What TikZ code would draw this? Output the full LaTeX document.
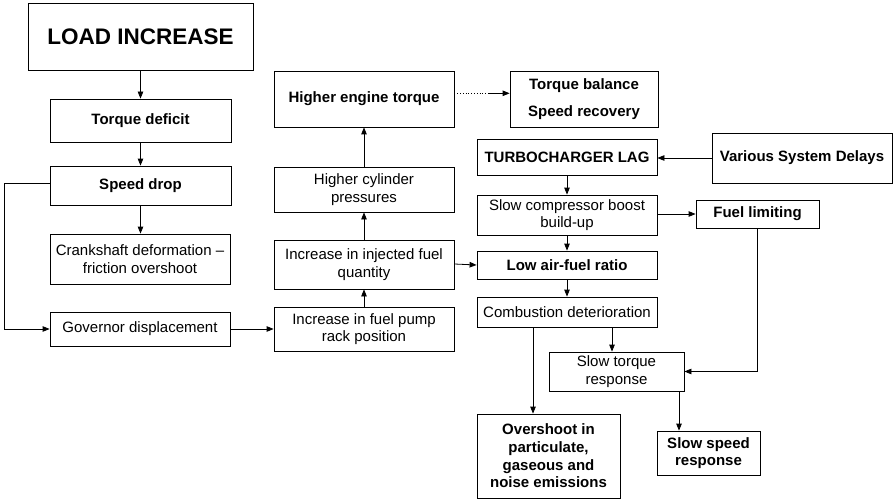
\documentclass[tikz,border=0pt]{standalone}
\usepackage{fontspec}
\setmainfont{Liberation Sans}
\usetikzlibrary{arrows.meta,calc}
\tikzset{
  box/.style={draw, line width=0.8pt, align=center, inner sep=1pt,
    font=\fontsize{15}{17.7}\selectfont},
  bbox/.style={box, font=\fontsize{15}{17.7}\selectfont\bfseries},
  arr/.style={line width=0.8pt, -{Triangle[length=7pt,width=5.5pt]}},
  ln/.style={line width=0.8pt},
}
\newcommand{\bx}[7]{% name, x1, y1, x2, y2, style, text
  \node[#6, minimum width={#4-#2}, minimum height={#5-#3}] (#1) at ({(#2+#4)/2},{(#3+#5)/2}) {#7};}
\begin{document}
\begin{tikzpicture}[x=1pt,y=-1pt]
\useasboundingbox (0,0) rectangle (894,500);
\bx{load}{28}{3}{253}{70}{bbox, font=\fontsize{22.5}{26}\selectfont\bfseries}{LOAD INCREASE}
\bx{torque}{50}{99}{231}{142}{bbox}{Torque deficit}
\bx{speed}{50}{166}{231}{205}{bbox}{Speed drop}
\bx{crank}{50}{234}{230}{284}{box}{Crankshaft deformation --\\friction overshoot}
\bx{gov}{50}{312}{230}{346}{box}{Governor displacement}
\bx{pump}{274}{307}{454}{351}{box}{Increase in fuel pump\\rack position}
\bx{inj}{274}{240}{454}{289}{box}{Increase in injected fuel\\quantity}
\bx{cyl}{274}{167}{454}{212}{box}{Higher cylinder\\pressures}
\bx{het}{274}{71}{454}{127}{bbox}{Higher engine torque}
\bx{tbsr}{510}{71}{658}{127}{bbox, font=\fontsize{15}{26.7}\selectfont\bfseries}{Torque balance\\Speed recovery}
\bx{turbo}{477}{139}{657}{175}{bbox}{TURBOCHARGER LAG}
\bx{vsd}{712}{133}{892}{183}{bbox}{Various System Delays}
\bx{scb}{477}{195}{657}{235}{box}{Slow compressor boost\\build-up}
\bx{fuel}{696}{200}{819}{228}{bbox}{Fuel limiting}
\bx{lafr}{477}{251}{657}{279}{bbox}{Low air-fuel ratio}
\bx{comb}{477}{297}{657}{327}{box}{Combustion deterioration}
\bx{str}{549}{352}{684}{391}{box}{Slow torque\\response}
\bx{over}{477}{414}{620}{498}{bbox}{Overshoot in\\particulate,\\gaseous and\\noise emissions}
\bx{ssr}{657}{431}{760}{475}{bbox}{Slow speed\\response}

% left column
\draw[arr] (load.south) -- (load.south |- torque.north);
\draw[arr] (torque.south) -- (speed.north);
\draw[arr] (speed.south) -- (speed.south |- crank.north);
\draw[arr] ([yshift=2.5pt]speed.west) -- ++(-45,0) |- (gov.west);
\draw[arr] (gov.east) -- (gov.east -| pump.west);

% middle column
\draw[arr] (pump.north) -- (inj.south);
\draw[arr] (inj.north) -- (cyl.south);
\draw[arr] (cyl.north) -- (het.south);
\draw[ln, dotted] ([yshift=5.7pt]het.east) -- ++(34,0) coordinate (dm);
\draw[arr] (dm) -- (dm -| tbsr.west);
\draw[arr] ([yshift=0.5pt]inj.east) -- (lafr.west);

% right part
\draw[arr] (vsd.west) -- (vsd.west -| turbo.east);
\draw[arr] (turbo.south) -- (scb.south |- scb.north);
\draw[arr] (scb.east |- fuel.west) -- (fuel.west);
\draw[arr] (scb.south) -- (lafr.north);
\draw[arr] (lafr.south) -- (comb.north);
\draw[arr] ([xshift=-4.5pt]str.north |- comb.south) -- ([xshift=-4.5pt]str.north);
\draw[arr] (fuel.south) |- (str.east);
\draw[arr] ([xshift=-15.5pt]over.north |- comb.south) -- ([xshift=-15.5pt]over.north);
\draw[arr] ([xshift=-29.5pt]ssr.north |- str.south) -- ([xshift=-29.5pt]ssr.north);
\end{tikzpicture}
\end{document}
